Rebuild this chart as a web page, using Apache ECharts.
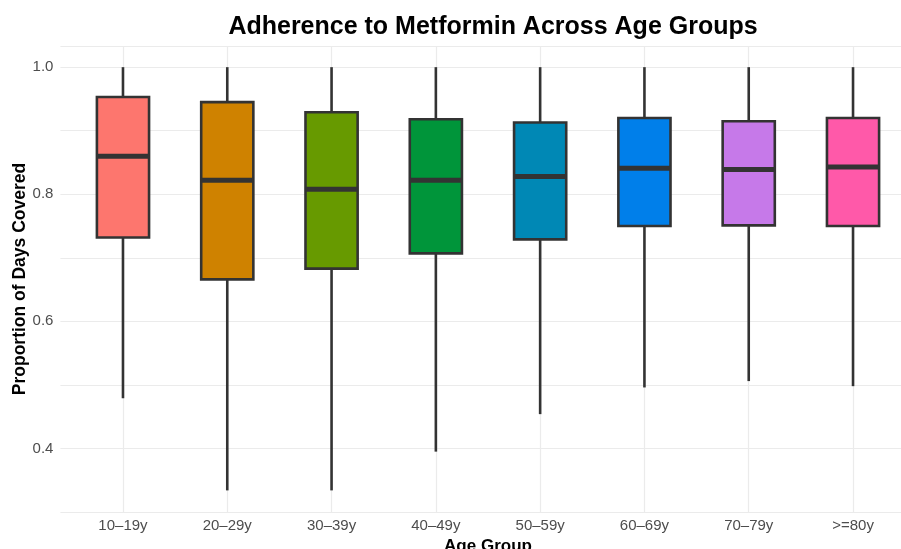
<!DOCTYPE html>
<html>
<head>
<meta charset="utf-8">
<script src="https://cdn.jsdelivr.net/npm/echarts@6/dist/echarts.min.js"></script>
<style>
html,body{margin:0;padding:0;background:#fff;}
#chart{width:901px;height:549px;}
</style>
</head>
<body>
<div id="chart"></div>
<script>
var categories = ['10\u201319y','20\u201329y','30\u201339y','40\u201349y','50\u201359y','60\u201369y','70\u201379y','>=80y'];
var whiskerLow = [0.479, 0.334, 0.334, 0.395, 0.454, 0.496, 0.506, 0.498];
var q1Values   = [0.732, 0.666, 0.683, 0.707, 0.729, 0.750, 0.751, 0.750];
var medians    = [0.860, 0.822, 0.808, 0.822, 0.828, 0.841, 0.839, 0.843];
var q3Values   = [0.953, 0.945, 0.929, 0.918, 0.913, 0.920, 0.915, 0.920];
var whiskerHigh= [1.0, 1.0, 1.0, 1.0, 1.0, 1.0, 1.0, 1.0];
var yTickLabels = [0.4, 0.6, 0.8, 1.0];
var boxColors = ['#FD766E','#CF8200','#679A00','#00953A','#0088B5','#007FEA','#C679E9','#FF59A9'];

var FONT = '"Liberation Sans", Arial, Helvetica, sans-serif';

var boxData = categories.map(function (c, i) {
  return [i, whiskerLow[i], q1Values[i], medians[i], q3Values[i], whiskerHigh[i]];
});

var chart = echarts.init(document.getElementById('chart'), null, {renderer: 'canvas'});

function renderBox(params, api) {
  var i = api.value(0);
  var pMin = api.coord([i, api.value(1)]);
  var pQ1 = api.coord([i, api.value(2)]);
  var pMed = api.coord([i, api.value(3)]);
  var pQ3 = api.coord([i, api.value(4)]);
  var pMax = api.coord([i, api.value(5)]);
  var left = api.coord([i - 0.25, 0.5])[0];
  var right = api.coord([i + 0.25, 0.5])[0];
  var x = pMin[0];
  var stroke = '#333333';
  return {
    type: 'group',
    children: [
      {type: 'line', shape: {x1: x, y1: pMax[1], x2: x, y2: pQ3[1]}, style: {stroke: stroke, lineWidth: 2.6}},
      {type: 'line', shape: {x1: x, y1: pQ1[1], x2: x, y2: pMin[1]}, style: {stroke: stroke, lineWidth: 2.6}},
      {type: 'rect', shape: {x: left, y: pQ3[1], width: right - left, height: pQ1[1] - pQ3[1]},
        style: {fill: boxColors[params.dataIndex], stroke: stroke, lineWidth: 2.6}},
      {type: 'line', shape: {x1: left, y1: pMed[1], x2: right, y2: pMed[1]}, style: {stroke: stroke, lineWidth: 5}}
    ]
  };
}

var option = {
  backgroundColor: '#ffffff',
  animation: false,
  title: {
    text: 'Adherence to Metformin Across Age Groups',
    left: 488,
    textAlign: 'center',
    top: 10,
    textStyle: {fontFamily: FONT, fontWeight: 'bold', fontSize: 25, color: '#000'}
  },
  grid: {left: 60.4, right: -14.6, top: 46, bottom: 37, containLabel: false, outerBoundsMode: 'none'},
  xAxis: {
    type: 'value',
    min: -0.6,
    max: 7.6,
    name: 'Age Group',
    nameLocation: 'middle',
    nameGap: 26,
    nameMoveOverlap: false,
    nameTextStyle: {fontFamily: FONT, fontWeight: 'bold', fontSize: 17, color: '#000'},
    axisLine: {show: false},
    axisTick: {show: false, customValues: [0,1,2,3,4,5,6,7]},
    axisLabel: {
      customValues: [0,1,2,3,4,5,6,7],
      margin: 6,
      fontFamily: FONT, fontSize: 15, color: '#4D4D4D',
      formatter: function (v) { return categories[Math.round(v)]; }
    },
    splitLine: {show: true, lineStyle: {color: '#EBEBEB', width: 1.2}}
  },
  yAxis: {
    type: 'value',
    min: 0.3,
    max: 1.0333,
    interval: 0.1,
    name: 'Proportion of Days Covered',
    nameLocation: 'middle',
    nameGap: 31,
    nameMoveOverlap: false,
    nameTextStyle: {fontFamily: FONT, fontWeight: 'bold', fontSize: 17.5, color: '#000'},
    axisLine: {show: false},
    axisTick: {show: false},
    axisLabel: {
      margin: 7,
      fontFamily: FONT, fontSize: 15, color: '#4D4D4D',
      showMaxLabel: false,
      formatter: function (v) {
        for (var k = 0; k < yTickLabels.length; k++) {
          if (Math.abs(v - yTickLabels[k]) < 1e-6) return yTickLabels[k].toFixed(1);
        }
        return '';
      }
    },
    splitLine: {show: true, lineStyle: {color: '#EBEBEB', width: 1.2}}
  },
  series: [{
    type: 'custom',
    renderItem: renderBox,
    data: boxData,
    encode: {x: 0, y: [1, 2, 3, 4, 5]},
    clip: false
  }]
};
chart.setOption(option);
</script>
</body>
</html>
